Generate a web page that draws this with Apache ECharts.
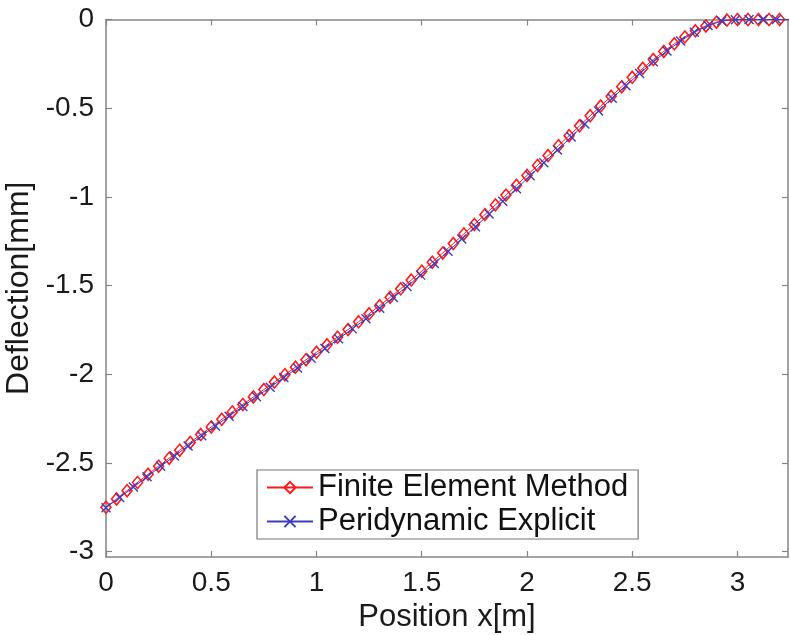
<!DOCTYPE html>
<html>
<head>
<meta charset="utf-8">
<script src="https://cdn.jsdelivr.net/npm/echarts@6/dist/echarts.min.js"></script>
<style>html,body{margin:0;padding:0;background:#fff}#c{width:790px;height:635px}</style>
</head>
<body>
<div id="c"></div>
<script>
// FEM: x = 0, 0.05, ..., 3.25
const femX = [0,0.05,0.1,0.15,0.2,0.25,0.3,0.35,0.4,0.45,0.5,0.55,0.6,0.65,0.7,0.75,0.8,0.85,0.9,0.95,1,1.05,1.1,1.15,1.2,1.25,1.3,1.35,1.4,1.45,1.5,1.55,1.6,1.65,1.7,1.75,1.8,1.85,1.9,1.95,2,2.05,2.1,2.15,2.2,2.25,2.3,2.35,2.4,2.45,2.5,2.55,2.6,2.65,2.7,2.75,2.8,2.85,2.9,2.95,3,3.05,3.1,3.15,3.2,3.25];
const femY = [-2.750,-2.703,-2.656,-2.610,-2.564,-2.518,-2.473,-2.428,-2.384,-2.340,-2.297,-2.254,-2.212,-2.170,-2.128,-2.086,-2.044,-2.002,-1.960,-1.918,-1.876,-1.834,-1.791,-1.748,-1.704,-1.659,-1.613,-1.566,-1.518,-1.469,-1.419,-1.368,-1.316,-1.263,-1.209,-1.155,-1.100,-1.045,-0.990,-0.935,-0.879,-0.823,-0.767,-0.711,-0.655,-0.599,-0.543,-0.488,-0.433,-0.379,-0.326,-0.275,-0.226,-0.180,-0.137,-0.098,-0.064,-0.036,-0.015,-0.003,0,0,0,0,0,0];
// Peridynamic: x = 0, 0.065, ..., 3.25
const pdX = [0,0.065,0.13,0.195,0.26,0.325,0.39,0.455,0.52,0.585,0.65,0.715,0.78,0.845,0.91,0.975,1.04,1.105,1.17,1.235,1.3,1.365,1.43,1.495,1.56,1.625,1.69,1.755,1.82,1.885,1.95,2.015,2.08,2.145,2.21,2.275,2.34,2.405,2.47,2.535,2.6,2.665,2.73,2.795,2.86,2.925,2.99,3.055,3.12,3.185,3.25];
const pdY = [-2.752,-2.695,-2.636,-2.578,-2.519,-2.461,-2.404,-2.347,-2.291,-2.236,-2.181,-2.127,-2.073,-2.018,-1.964,-1.909,-1.855,-1.800,-1.744,-1.687,-1.628,-1.567,-1.505,-1.441,-1.375,-1.307,-1.238,-1.168,-1.097,-1.025,-0.954,-0.881,-0.808,-0.735,-0.662,-0.589,-0.516,-0.444,-0.373,-0.304,-0.238,-0.177,-0.121,-0.072,-0.034,-0.009,-0.001,0,0,0,0];
const xTicks = [0,0.5,1,1.5,2,2.5,3];
const yTicks = [-3,-2.5,-2,-1.5,-1,-0.5,0];
const xMin = 0, xMax = 3.24, yMin = -3.03, yMax = 0;

const FONT = 'Liberation Sans';
const AX = '#858585';
const fmt = v => (Math.round(v * 10) / 10).toString();

const chart = echarts.init(document.getElementById('c'), null, {renderer: 'canvas'});
const line = {show: true, onZero: false, lineStyle: {color: AX, width: 1.5}};
const tickX = {show: true, inside: true, length: 6, customValues: xTicks, lineStyle: {color: AX, width: 1.2}};
const tickY = {show: true, inside: true, length: 6, customValues: yTicks, lineStyle: {color: AX, width: 1.2}};
chart.setOption({
  animation: false,
  grid: {left: 106, right: 2, top: 19.5, bottom: 78, containLabel: false, outerBoundsMode: 'none'},
  xAxis: [
    {
      type: 'value', min: xMin, max: xMax, position: 'bottom',
      name: 'Position x[m]', nameLocation: 'middle', nameGap: 44,
      nameTextStyle: {fontFamily: FONT, fontSize: 31, color: '#1a1a1a'},
      axisLine: line, axisTick: tickX, splitLine: {show: false},
      axisLabel: {fontFamily: FONT, fontSize: 28, color: '#1a1a1a', margin: 12,
        customValues: xTicks, formatter: v => fmt(v)}
    },
    {
      type: 'value', min: xMin, max: xMax, position: 'top',
      axisLine: line, axisTick: tickX, splitLine: {show: false},
      axisLabel: {show: false}
    }
  ],
  yAxis: [
    {
      type: 'value', min: yMin, max: yMax, position: 'left',
      name: 'Deflection[mm]', nameLocation: 'middle', nameGap: 67, nameRotate: 90,
      nameTextStyle: {fontFamily: FONT, fontSize: 32, color: '#1a1a1a'},
      axisLine: line, axisTick: tickY, splitLine: {show: false},
      axisLabel: {fontFamily: FONT, fontSize: 28, color: '#1a1a1a', margin: 12,
        customValues: yTicks, formatter: v => fmt(v)}
    },
    {
      type: 'value', min: yMin, max: yMax, position: 'right',
      axisLine: line, axisTick: tickY, splitLine: {show: false},
      axisLabel: {show: false}
    }
  ],
  legend: {
    orient: 'vertical', left: 257, top: 470,
    padding: [2, 10, 2, 9], itemGap: 3, itemWidth: 46, itemHeight: 14,
    backgroundColor: '#fff', borderColor: '#777', borderWidth: 1.2,
    textStyle: {fontFamily: FONT, fontSize: 31, color: '#111'},
    data: ['Finite Element Method', 'Peridynamic Explicit']
  },
  series: [
    {
      name: 'Finite Element Method', type: 'line', xAxisIndex: 0, yAxisIndex: 0,
      data: femX.map((x, i) => [x, femY[i]]),
      symbol: 'diamond', symbolSize: [10, 12], showAllSymbol: true,
      lineStyle: {color: '#ff1a1a', width: 1},
      itemStyle: {color: 'rgba(0,0,0,0)', borderColor: '#ff1a1a', borderWidth: 1.6},
      z: 2
    },
    {
      name: 'Peridynamic Explicit', type: 'line', xAxisIndex: 0, yAxisIndex: 0,
      data: pdX.map((x, i) => [x, pdY[i]]),
      symbol: 'path://M0,0L10,10M10,0L0,10', symbolSize: 9, showAllSymbol: true,
      lineStyle: {color: '#3d3dbf', width: 1},
      itemStyle: {color: 'rgba(0,0,0,0)', borderColor: '#3d3dbf', borderWidth: 1.4},
      z: 3
    }
  ]
});
</script>
</body>
</html>
